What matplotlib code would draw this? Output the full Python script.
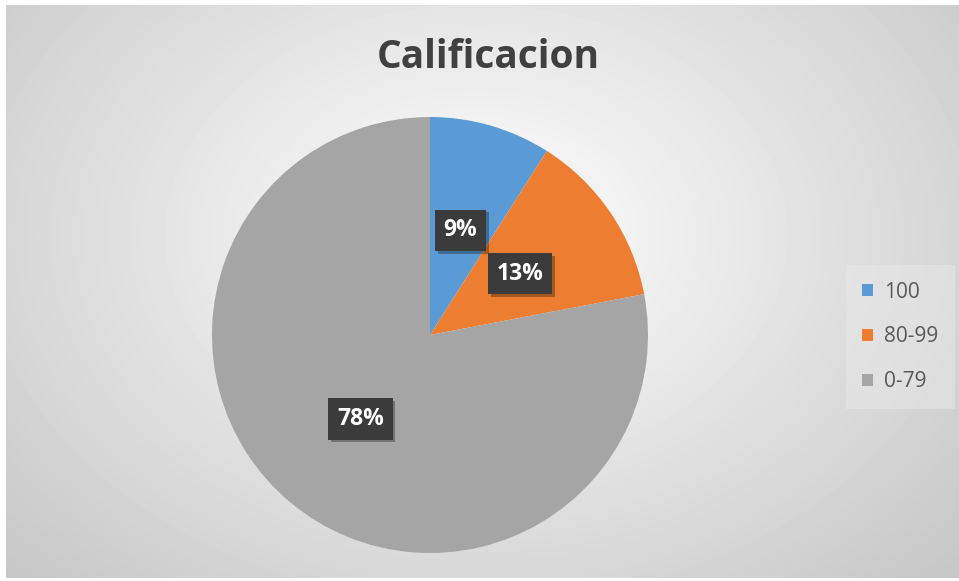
import numpy as np
import matplotlib
matplotlib.use("Agg")
import matplotlib.pyplot as plt
import matplotlib.patheffects as pe
from matplotlib.patches import Patch

# data
categories = ["100", "80-99", "0-79"]
shares = [9, 13, 78]
colors = ["#5B9BD5", "#ED7D31", "#A5A5A5"]

W, H = 959, 581
fig = plt.figure(figsize=(W / 100, H / 100), dpi=100)
fig.patch.set_facecolor("white")

# radial gradient background of the chart area
bg = fig.add_axes([6 / W, 3 / H, 953 / W, 573 / H])
yy, xx = np.mgrid[0:573, 0:953]
d = np.sqrt(((xx - 470) / 620.0) ** 2 + ((yy - 230) / 460.0) ** 2)
shade = np.clip(1.0 - 0.21 * d, 0.78, 1.0)
bg.imshow(shade, cmap="gray", vmin=0, vmax=1, aspect="auto")
bg.axis("off")

fig.text(488 / W, 1 - 57 / H, "Calificacion", ha="center", va="center",
         fontsize=28, fontweight="bold", color="#404040", family="Open Sans")

# pie axes: centre (430, 335) px, radius 218 px
r = 218
ax = fig.add_axes([(430 - r) / W, (H - 335 - r) / H, 2 * r / W, 2 * r / H])
wedges, texts, autotexts = ax.pie(
    shares, colors=colors, startangle=90, counterclock=False,
    autopct=lambda p: f"{p:.0f}%", pctdistance=0.5,
    wedgeprops=dict(linewidth=0))
ax.set_xlim(-1, 1)
ax.set_ylim(-1, 1)
ax.axis("off")

for t in autotexts:
    t.set_color("white")
    t.set_fontsize(16.5)
    t.set_fontweight("bold")
    t.set_family("Open Sans")
    t.set_bbox(dict(boxstyle="square,pad=0.38", facecolor="#3b3b3b", edgecolor="none"))
    t.get_bbox_patch().set_path_effects(
        [pe.withSimplePatchShadow(offset=(2, -2), shadow_rgbFace="black", alpha=0.3)])

handles = [Patch(facecolor=c, edgecolor="none") for c in colors]
leg = fig.legend(handles, categories, loc="center left",
                 bbox_to_anchor=(852 / W, 1 - 337 / H), frameon=True,
                 prop=dict(family="Open Sans", size=15),
                 handlelength=0.5, handleheight=0.5, handletextpad=0.55,
                 labelspacing=1.15, borderpad=0.5, borderaxespad=0)
leg.get_frame().set_facecolor("#ebebeb")
leg.get_frame().set_edgecolor("none")
leg.get_frame().set_alpha(0.45)
leg.get_frame().set_boxstyle("square")
for t in leg.get_texts():
    t.set_color("#595959")

fig.savefig("out.png", dpi=100)
